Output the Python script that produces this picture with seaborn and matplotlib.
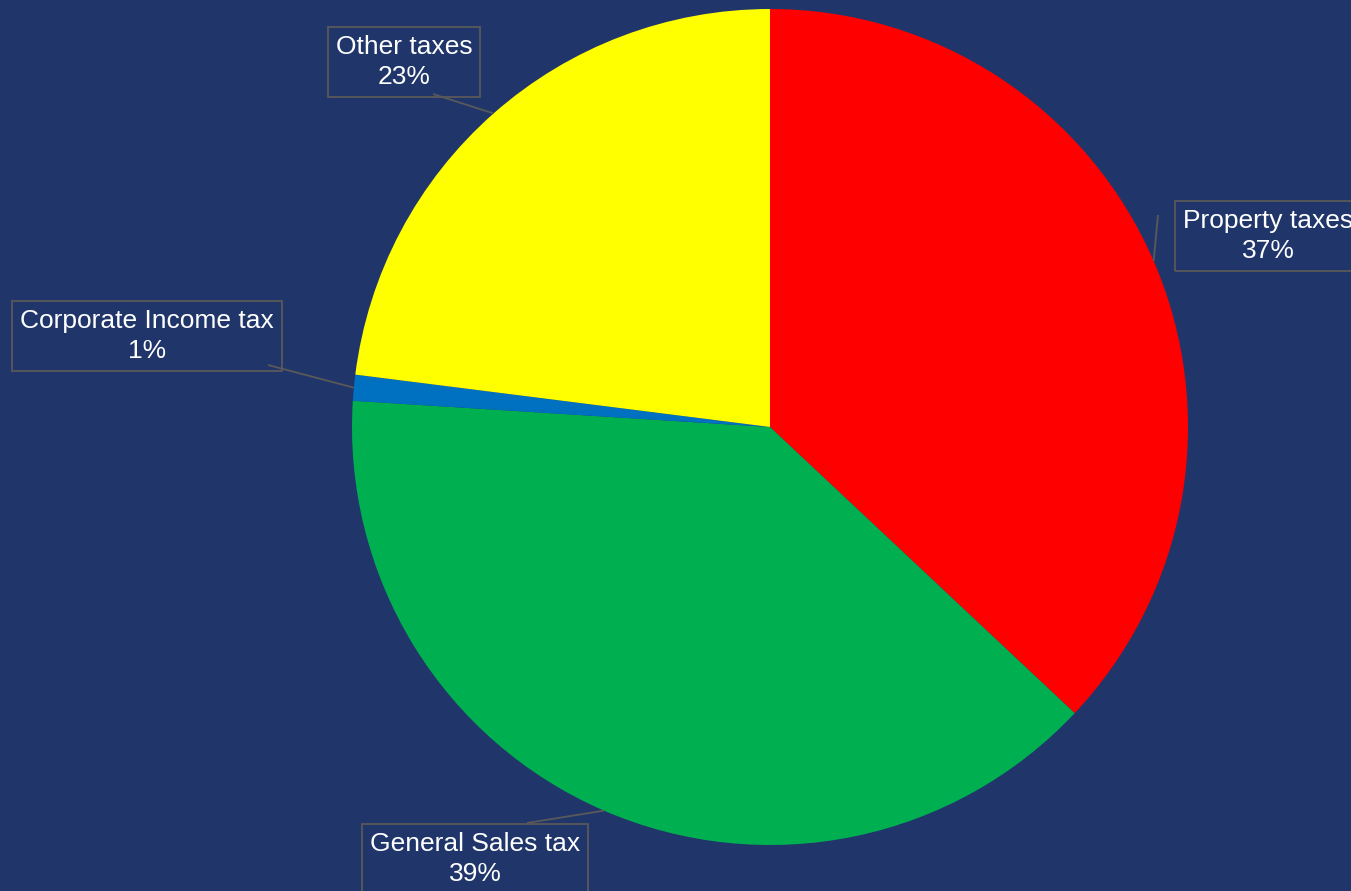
import matplotlib
matplotlib.use("Agg")
import matplotlib.pyplot as plt
import seaborn as sns
import numpy as np

# Tax revenue shares
categories = ["Property taxes", "General Sales tax", "Corporate Income tax", "Other taxes"]
shares = [37, 39, 1, 23]
colors = ["#FF0000", "#00B050", "#0070C0", "#FFFF00"]

# Label box centres and leader-line anchors (pixel coords, origin top-left)
label_centres = [(1268, 236), (475, 859), (147, 336), (404, 62)]
leader_anchors = [(1158, 215), (527, 823), (268, 365), (433, 94)]

BG = "#20366B"
EDGE = "#595959"
W, H = 1351, 891

sns.set_theme(style="white")
plt.rcParams["font.family"] = ["Liberation Sans", "DejaVu Sans"]

fig = plt.figure(figsize=(W / 100, H / 100), dpi=100, facecolor=BG)
ax = fig.add_axes([0, 0, 1, 1])
ax.set_facecolor(BG)

cx, cy, r = 770, H - 427, 418
wedges, _ = ax.pie(
    shares,
    colors=colors,
    startangle=90,
    counterclock=False,
    center=(cx, cy),
    radius=r,
    wedgeprops=dict(linewidth=0),
    frame=True,
)
ax.set_xlim(0, W)
ax.set_ylim(0, H)
ax.set_aspect("equal")
ax.axis("off")

for w, cat, share, (lx, ly), (ax0, ay0) in zip(
    wedges, categories, shares, label_centres, leader_anchors
):
    mid = np.deg2rad((w.theta1 + w.theta2) / 2)
    ex, ey = cx + r * np.cos(mid), cy + r * np.sin(mid)
    ax.plot([ax0, ex], [H - ay0, ey], color=EDGE, lw=1.3, zorder=3,
            solid_capstyle="butt")
    ax.text(
        lx, H - ly, f"{cat}\n{share}%",
        ha="center", va="center", fontsize=19, color="white",
        linespacing=1.3, zorder=4,
        bbox=dict(boxstyle="square,pad=0.3", fc="none", ec=EDGE, lw=1.3),
    )

fig.savefig("out.png", dpi=100, facecolor=BG)
